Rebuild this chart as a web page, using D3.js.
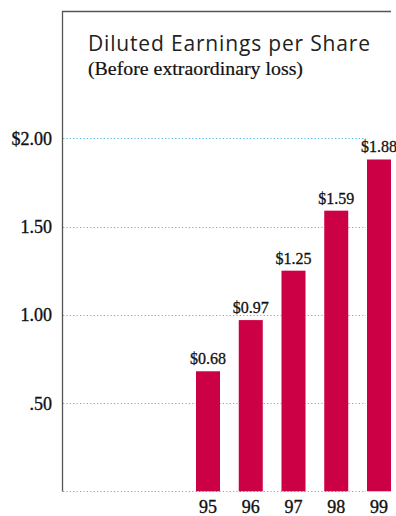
<!DOCTYPE html>
<html>
<head>
<meta charset="utf-8">
<script src="https://cdn.jsdelivr.net/npm/d3@7"></script>
<style>
  html, body { margin: 0; padding: 0; background: #fff; }
  svg { display: block; }
</style>
</head>
<body>
<svg id="chart" width="396" height="516"></svg>
<script>
const years = ["95", "96", "97", "98", "99"];
const eps = [0.68, 0.97, 1.25, 1.59, 1.88];
const valueLabels = ["$0.68", "$0.97", "$1.25", "$1.59", "$1.88"];
const tickValues = [0, 0.5, 1.0, 1.5, 2.0];
const tickLabels = ["", ".50", "1.00", "1.50", "$2.00"];
const title = "Diluted Earnings per Share";
const subtitle = "(Before extraordinary loss)";

const svg = d3.select("#chart");

const x = d3.scaleBand().domain(years).range([196, 391]).paddingInner(0.4386).paddingOuter(0);
const y = d3.scaleLinear().domain([0, 2]).range([491.3, 138.3]);

const serif = "'Liberation Serif', 'Times New Roman', serif";

// gridlines
svg.append("g").selectAll("line").data(tickValues).join("line")
  .attr("x1", 63).attr("x2", 366)
  .attr("y1", d => Math.round(y(d)) + 0.5).attr("y2", d => Math.round(y(d)) + 0.5)
  .attr("stroke", "#4fb8e6").attr("stroke-width", 1)
  .attr("stroke-dasharray", "1.2,2.2");

// frame
svg.append("line").attr("x1", 62.5).attr("x2", 62.5).attr("y1", 11).attr("y2", 491.5)
  .attr("stroke", "#555").attr("stroke-width", 1.3);
svg.append("line").attr("x1", 62).attr("x2", 391).attr("y1", 11.5).attr("y2", 11.5)
  .attr("stroke", "#555").attr("stroke-width", 1.3);

// y tick labels
svg.append("g").selectAll("text").data(tickValues).join("text")
  .attr("x", 52).attr("y", d => y(d) + 6.5)
  .attr("text-anchor", "end")
  .attr("font-family", serif).attr("font-size", 18).attr("fill", "#111")
  .attr("stroke", "#111").attr("stroke-width", 0.35)
  .text((d, i) => tickLabels[i]);

// bars
svg.append("g").selectAll("rect").data(eps).join("rect")
  .attr("x", (d, i) => x(years[i]))
  .attr("width", x.bandwidth())
  .attr("y", d => y(d))
  .attr("height", d => y(0) - y(d))
  .attr("fill", "#cc0044");

// value labels
svg.append("g").selectAll("text").data(eps).join("text")
  .attr("x", (d, i) => x(years[i]) + x.bandwidth() / 2)
  .attr("y", d => y(d) - 7)
  .attr("text-anchor", "middle")
  .attr("font-family", serif).attr("font-size", 16).attr("fill", "#111")
  .attr("stroke", "#111").attr("stroke-width", 0.3)
  .text((d, i) => valueLabels[i]);

// x labels
const xAxis = d3.axisBottom(x).tickSize(0).tickPadding(0);
const gx = svg.append("g").attr("transform", "translate(0,491)").call(xAxis);
gx.select(".domain").remove();
gx.selectAll("text")
  .attr("y", 22).attr("dy", null)
  .attr("font-family", serif).attr("font-size", 18).attr("fill", "#111")
  .attr("stroke", "#111").attr("stroke-width", 0.35);

// titles
svg.append("text").attr("x", 88).attr("y", 51)
  .attr("font-family", "'Open Sans', sans-serif").attr("font-size", 21).attr("font-weight", 400)
  .attr("fill", "#222").attr("textLength", 282).attr("lengthAdjust", "spacing")
  .text(title);
svg.append("text").attr("x", 88).attr("y", 75)
  .attr("font-family", serif).attr("font-size", 18).attr("fill", "#111")
  .attr("stroke", "#111").attr("stroke-width", 0.2)
  .attr("textLength", 215).attr("lengthAdjust", "spacingAndGlyphs")
  .text(subtitle);
</script>
</body>
</html>
